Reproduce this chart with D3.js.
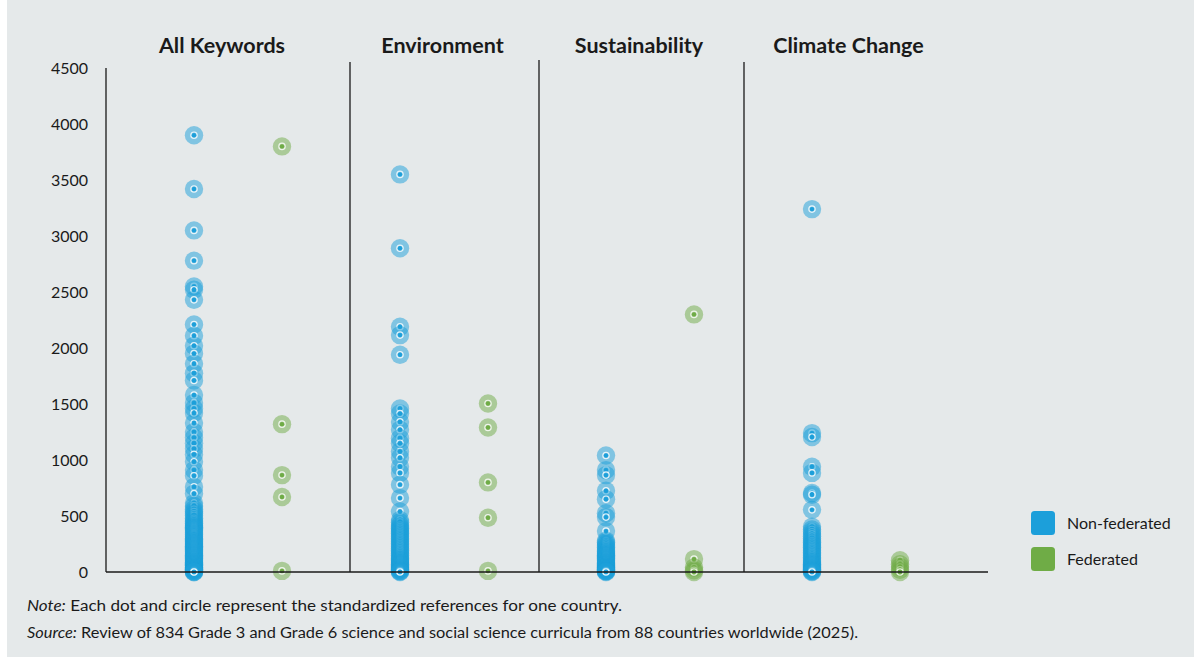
<!DOCTYPE html>
<html>
<head>
<meta charset="utf-8">
<script src="https://cdn.jsdelivr.net/npm/d3@7"></script>
<style>
  html, body { margin: 0; padding: 0; background: #ffffff; }
  svg { display: block; }
  text { font-family: Lato, "Noto Sans", sans-serif; fill: #1a1a1a; }
</style>
</head>
<body>
<svg id="chart" width="1194" height="657"></svg>
<script>
// Keyword panels and the two country groups
const categories = ["All Keywords", "Environment", "Sustainability", "Climate Change"];
const groups = ["Non-federated", "Federated"];
const yTicks = [0, 500, 1000, 1500, 2000, 2500, 3000, 3500, 4000, 4500];

// Standardized references per country
const allKeywordsNonFederated = [3900, 3420, 3050, 2780, 2550, 2520, 2430, 2210, 2110, 2020, 1950, 1860, 1775, 1710, 1580,
  1510, 1460, 1420, 1330, 1250, 1200, 1150, 1100, 1050, 985, 910, 860, 760, 700, 615, 590, 560, 540, 520, 505, 480,
  465, 450, 435, 420, 410, 400, 390, 380, 365, 350, 340, 330, 315, 300, 290, 280, 270, 260, 250, 240, 230, 220, 210,
  200, 190, 180, 170, 160, 150, 140, 130, 120, 110, 100, 90, 85, 75, 70, 60, 55, 45, 40, 35, 30, 25, 20, 15, 10, 5, 0, 0];
const allKeywordsFederated = [3800, 1320, 865, 670, 10];

const environmentNonFederated = [3550, 2890, 2190, 2115, 1940, 1460, 1415, 1340, 1270, 1195, 1150, 1075, 1020, 940, 885,
  780, 660, 540, 465, 445, 420, 405, 390, 375, 360, 345, 330, 315, 300, 285, 270, 255, 240, 225, 210, 195, 180, 165,
  150, 135, 120, 110, 100, 90, 80, 70, 60, 50, 40, 30, 25, 15, 10, 5, 0];
const environmentFederated = [1505, 1290, 800, 485, 10];

const sustainabilityNonFederated = [1040, 910, 865, 725, 650, 525, 490, 365, 280, 265, 250, 235, 220, 205, 190, 180,
  170, 160, 150, 140, 130, 120, 110, 100, 90, 80, 75, 65, 60, 50, 45, 40, 35, 30, 25, 20, 15, 10, 8, 5, 0];
const sustainabilityFederated = [2300, 115, 40, 15, 0];

const climateNonFederated = [3240, 1240, 1205, 940, 885, 705, 690, 555, 405, 380, 360, 340, 320, 300, 280, 265, 250,
  235, 220, 205, 190, 175, 160, 145, 130, 115, 100, 90, 80, 70, 60, 50, 40, 30, 25, 15, 10, 5, 0];
const climateFederated = [105, 70, 45, 20, 0];

const seriesValues = [
  [allKeywordsNonFederated, allKeywordsFederated],
  [environmentNonFederated, environmentFederated],
  [sustainabilityNonFederated, sustainabilityFederated],
  [climateNonFederated, climateFederated]
];

const colors = { "Non-federated": "#1c9fda", "Federated": "#6fac46" };

const svg = d3.select("#chart");
const W = 1194, H = 657;

// panel background
svg.append("rect").attr("x", 7).attr("y", 0).attr("width", W - 7).attr("height", H).attr("fill", "#e5e9ea");

const plot = { left: 106, right: 988, top: 68, bottom: 572 };

const y = d3.scaleLinear().domain([0, 4500]).range([plot.bottom, plot.top]);
const xPanel = d3.scaleBand().domain(categories).range([135, 959]).padding(0);
const xGroup = d3.scalePoint().domain(groups).range([-44, 44]);

// y axis: labels only, plus a plain vertical rule
const yAxis = d3.axisLeft(y).tickValues(yTicks).tickSize(0).tickPadding(0).tickFormat(d3.format("d"));
const gy = svg.append("g").attr("transform", `translate(88,0)`).call(yAxis);
gy.select(".domain").remove();
gy.selectAll("text").attr("font-size", 16).attr("font-family", "Lato, 'Noto Sans', sans-serif").attr("fill", "#1a1a1a").attr("dy", "0.35em");

svg.append("line").attr("x1", plot.left).attr("x2", plot.left).attr("y1", plot.top).attr("y2", plot.bottom)
  .attr("stroke", "#3f3f3f").attr("stroke-width", 1.6);

// panel separators and titles
const separatorX = [350, 539, 744];
const separatorTop = [62, 60, 62];
separatorX.forEach((sx, i) => {
  svg.append("line").attr("x1", sx).attr("x2", sx).attr("y1", separatorTop[i]).attr("y2", plot.bottom)
    .attr("stroke", "#1a1a1a").attr("stroke-width", 1.3);
});

const titleShift = [-16, -1.5, -11, -7.5];
categories.forEach((c, i) => {
  svg.append("text")
    .attr("x", xPanel(c) + xPanel.bandwidth() / 2 + titleShift[i])
    .attr("y", 53)
    .attr("text-anchor", "middle")
    .attr("font-size", 21.5)
    .attr("font-weight", 700)
    .text(c);
});

// dots: translucent halo, white ring, solid centre
categories.forEach((c, i) => {
  groups.forEach((g, j) => {
    const cx = xPanel(c) + xPanel.bandwidth() / 2 + xGroup(g);
    const pts = svg.append("g").selectAll("g").data(seriesValues[i][j]).join("g")
      .attr("transform", d => `translate(${cx},${y(d)})`);
    pts.append("circle").attr("r", 9.2).attr("fill", colors[g]).attr("fill-opacity", 0.5);
    pts.append("circle").attr("r", 3.2).attr("fill", "none").attr("stroke", "#ffffff").attr("stroke-opacity", 0.8).attr("stroke-width", 1.2);
    pts.append("circle").attr("r", 2.2).attr("fill", colors[g]);
  });
});

// baseline
svg.append("line").attr("x1", plot.left).attr("x2", plot.right).attr("y1", plot.bottom).attr("y2", plot.bottom)
  .attr("stroke", "#1a1a1a").attr("stroke-width", 1.5);

// legend
const legend = svg.append("g").attr("transform", "translate(1031,511)");
groups.forEach((g, i) => {
  const row = legend.append("g").attr("transform", `translate(0,${i * 36})`);
  row.append("rect").attr("width", 24).attr("height", 24).attr("rx", 3.5).attr("fill", colors[g]);
  row.append("text").attr("x", 36).attr("y", 12).attr("dy", "0.35em").attr("font-size", 16).text(g);
});

// note and source
const notes = [
  { lead: "Note:", rest: " Each dot and circle represent the standardized references for one country.", y: 611, len: 595 },
  { lead: "Source:", rest: " Review of 834 Grade 3 and Grade 6 science and social science curricula from 88 countries worldwide (2025).", y: 638, len: 831 }
];
notes.forEach(n => {
  const t = svg.append("text").attr("x", 27).attr("y", n.y).attr("font-size", 15.5)
    .attr("font-family", "'Liberation Sans Narrow', 'Liberation Sans', sans-serif")
    .attr("textLength", n.len).attr("lengthAdjust", "spacingAndGlyphs");
  t.append("tspan").attr("font-style", "italic").text(n.lead);
  t.append("tspan").text(n.rest);
});
</script>
</body>
</html>
